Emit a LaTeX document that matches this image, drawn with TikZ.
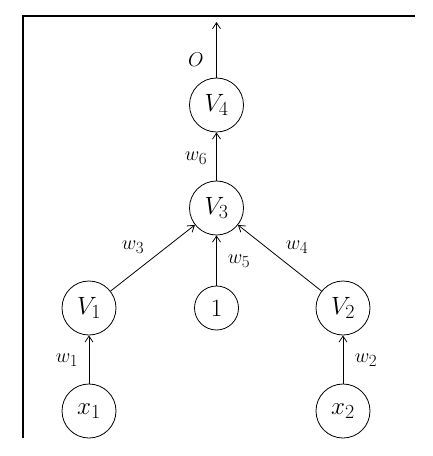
\documentclass[tikz,border=0pt]{standalone}
\usepackage{fix-cm}
\usetikzlibrary{arrows.meta}
\DeclareMathSizes{25}{25}{20}{16}
\DeclareMathSizes{20}{20}{17}{13}
\begin{document}
\begin{tikzpicture}[x=1pt,y=-1pt,
  neuron/.style={draw, circle, line width=0.8pt, minimum size=54pt, inner sep=0pt, font=\fontsize{25}{28}\selectfont},
  bias/.style={neuron, minimum size=44pt},
  conn/.style={draw, line width=0.8pt, -{Straight Barb[length=6pt,width=8pt]}},
  wlab/.style={font=\fontsize{20}{23}\selectfont},
  frame/.style={line width=1.2pt}]
\useasboundingbox (0,0) rectangle (432,456);
\draw[frame] (415,16) -- (23,16) -- (23,438);
\node[neuron] (V4) at (216.5,105) {$V_4$};
\node[neuron] (V3) at (216.5,208) {$V_3$};
\node[neuron] (V1) at (89,308) {$V_1$};
\node[bias] (B) at (216.5,308) {$1$};
\node[neuron] (V2) at (343,308) {$V_2$};
\node[neuron] (X1) at (89,411) {$x_1$};
\node[neuron] (X2) at (343,411) {$x_2$};
\coordinate (out) at (216.5,22);
\draw[conn] (V4) -- (out);
\draw[conn] (V3) -- (V4);
\draw[conn] (V1) -- (V3);
\draw[conn] (B) -- (V3);
\draw[conn] (V2) -- (V3);
\draw[conn] (X1) -- (V1);
\draw[conn] (X2) -- (V2);
\node[wlab] (lo) at (196,60) {$O$};
\node[wlab] (l6) at (196,158) {$w_6$};
\node[wlab] (l3) at (133,247) {$w_3$};
\node[wlab] (l4) at (297,247) {$w_4$};
\node[wlab] (l5) at (239,261) {$w_5$};
\node[wlab] (l1) at (67,360) {$w_1$};
\node[wlab] (l2) at (366,360) {$w_2$};
\end{tikzpicture}
\end{document}
